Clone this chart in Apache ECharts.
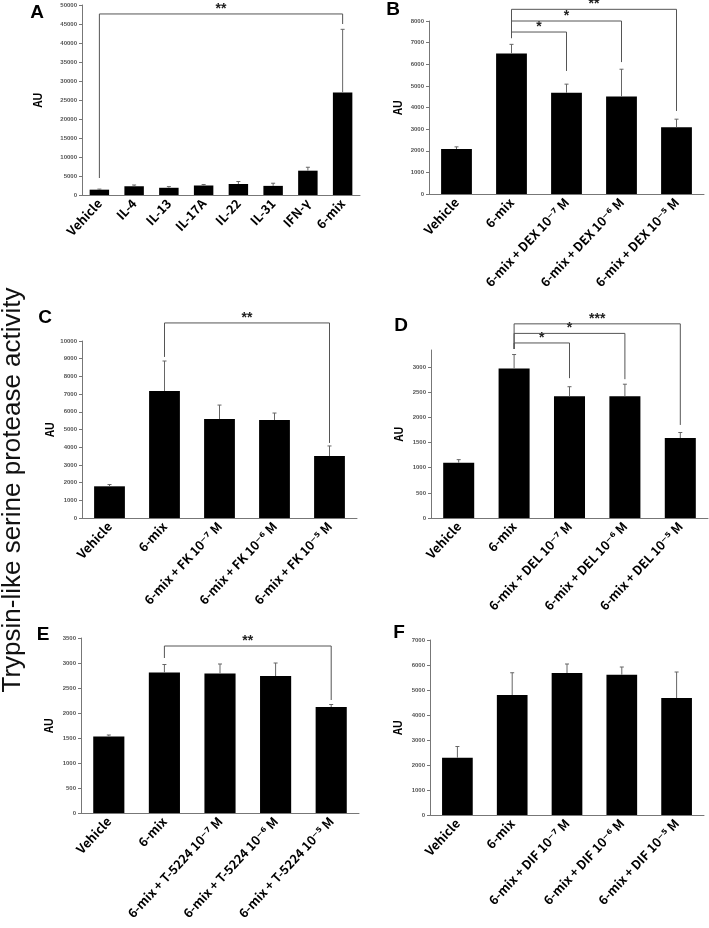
<!DOCTYPE html>
<html>
<head>
<meta charset="utf-8">
<script src="https://cdn.jsdelivr.net/npm/echarts@6/dist/echarts.min.js"></script>
<style>
  html, body { margin: 0; padding: 0; background: #fff; }
  #main { width: 709px; height: 928px; }
</style>
</head>
<body>
<div id="main"></div>
<script>
// categories
const catsA = ['Vehicle', 'IL-4', 'IL-13', 'IL-17A', 'IL-22', 'IL-31', 'IFN-γ', '6-mix']
const catsB = ['Vehicle', '6-mix', '6-mix + DEX 10⁻⁷ M', '6-mix + DEX 10⁻⁶ M', '6-mix + DEX 10⁻⁵ M']
const catsC = ['Vehicle', '6-mix', '6-mix + FK 10⁻⁷ M', '6-mix + FK 10⁻⁶ M', '6-mix + FK 10⁻⁵ M']
const catsD = ['Vehicle', '6-mix', '6-mix + DEL 10⁻⁷ M', '6-mix + DEL 10⁻⁶ M', '6-mix + DEL 10⁻⁵ M']
const catsE = ['Vehicle', '6-mix', '6-mix + T-5224 10⁻⁷ M', '6-mix + T-5224 10⁻⁶ M', '6-mix + T-5224 10⁻⁵ M']
const catsF = ['Vehicle', '6-mix', '6-mix + DIF 10⁻⁷ M', '6-mix + DIF 10⁻⁶ M', '6-mix + DIF 10⁻⁵ M']

// means and SD (AU)
const meanA = [1400, 2300, 1900, 2500, 2900, 2400, 6400, 27000]
const sdA = [150, 330, 300, 250, 650, 700, 900, 16600]
const meanB = [2080, 6500, 4680, 4510, 3090]
const sdB = [100, 420, 400, 1260, 370]
const meanC = [1790, 7180, 5590, 5540, 3500]
const sdC = [100, 1690, 790, 390, 570]
const meanD = [1100, 2970, 2420, 2420, 1590]
const sdD = [60, 280, 190, 240, 110]
const meanE = [1530, 2810, 2790, 2740, 2120]
const sdE = [30, 160, 190, 260, 50]
const meanF = [2290, 4800, 5680, 5610, 4680]
const sdF = [450, 890, 360, 310, 1040]

// y axis ticks: [max, interval]
const axisA = [50000, 5000]
const axisB = [8000, 1000]
const axisC = [10000, 1000]
const axisD = [3340, 500]
const axisE = [3500, 500]
const axisF = [7000, 1000]
const ticksD = [0, 500, 1000, 1500, 2000, 2500, 3000]

// significance brackets: [from, to, level, leftEnd, rightEnd, label]
const sigA = [[0, 7, 47640, 4470, 45000, '**']]
const sigB = [[1, 2, 7490, 7210, 5690, '*'], [1, 3, 8000, 7210, 6100, '*'], [1, 4, 8540, 7210, 3840, '**']]
const sigC = [[1, 4, 11020, 9100, 4240, '**']]
const sigD = [[1, 2, 3480, 3360, 2780, '*'], [1, 3, 3670, 3360, 2760, '*'], [1, 4, 3860, 3360, 1850, '***']]
const sigE = [[1, 4, 3340, 3100, 2260, '**']]

const panels = [
  { key: 'A', cats: catsA, mean: meanA, sd: sdA, axis: axisA, sig: sigA, grid: [82, 5, 278, 190], gap: 39, letter: [37, 13] },
  { key: 'B', cats: catsB, mean: meanB, sd: sdB, axis: axisB, sig: sigB, grid: [429, 21, 275, 173], gap: 26, letter: [393, 10] },
  { key: 'C', cats: catsC, mean: meanC, sd: sdC, axis: axisC, sig: sigC, grid: [82, 341, 275, 177], gap: 27, letter: [45, 318] },
  { key: 'D', cats: catsD, mean: meanD, sd: sdD, axis: axisD, sig: sigD, grid: [431, 350, 277, 168], gap: 27, letter: [401, 326], ticks: ticksD },
  { key: 'E', cats: catsE, mean: meanE, sd: sdE, axis: axisE, sig: sigE, grid: [81, 638, 278, 175], gap: 27, letter: [43, 635] },
  { key: 'F', cats: catsF, mean: meanF, sd: sdF, axis: axisF, sig: [], grid: [430, 640, 274, 175], gap: 27, letter: [399, 633] }
]

const labelFont = '"Noto Sans CJK JP", "DejaVu Sans", sans-serif'

function errRender (params, api) {
  let x = api.value(0)
  let p1 = api.coord([x, api.value(1)])
  let p2 = api.coord([x, api.value(2)])
  let st = { stroke: '#666', lineWidth: 1 }
  return {
    type: 'group',
    children: [
      { type: 'line', shape: { x1: p1[0], y1: p1[1], x2: p2[0], y2: p2[1] }, style: st },
      { type: 'line', shape: { x1: p2[0] - 2, y1: p2[1], x2: p2[0] + 2, y2: p2[1] }, style: st }
    ]
  }
}

function sigRender (params, api) {
  let a = api.coord([api.value(0), api.value(2)])
  let b = api.coord([api.value(1), api.value(2)])
  let la = api.coord([api.value(0), api.value(3)])
  let rb = api.coord([api.value(1), api.value(4)])
  let st = { stroke: '#555', lineWidth: 1 }
  return {
    type: 'group',
    children: [
      { type: 'polyline', shape: { points: [[la[0], la[1]], [a[0], a[1]], [b[0], b[1]], [rb[0], rb[1]]] }, style: Object.assign({ fill: null }, st) },
      { type: 'text', x: (a[0] + b[0]) / 2, y: a[1] + 2, style: { text: api.value(5), fill: '#222', font: 'bold 14px "Liberation Sans", Arial, sans-serif', align: 'center', verticalAlign: 'bottom' } }
    ]
  }
}

let grids = [], xAxes = [], yAxes = [], series = [], graphics = []
panels.forEach(function (p, i) {
  grids.push({ left: p.grid[0], top: p.grid[1], width: p.grid[2], height: p.grid[3], outerBoundsMode: 'none' })
  xAxes.push({
    type: 'category', gridIndex: i, data: p.cats,
    axisLine: { lineStyle: { color: '#777', width: 1 } },
    axisTick: { length: 3, lineStyle: { color: '#777' } },
    axisLabel: { interval: 0, rotate: 47, margin: 6, fontSize: 12.5, fontWeight: 'bold', color: '#000', fontFamily: labelFont }
  })
  let y = {
    type: 'value', gridIndex: i, min: 0, max: p.axis[0], interval: p.axis[1],
    name: 'AU', nameLocation: 'middle', nameGap: p.gap, nameRotate: 90,
    nameTextStyle: { fontSize: 11, fontWeight: 'bold', color: '#000', fontFamily: labelFont },
    splitLine: { show: false },
    axisLine: { show: true, lineStyle: { color: '#777', width: 1 } },
    axisTick: { show: true, length: 3, lineStyle: { color: '#777' } },
    axisLabel: { fontSize: 6, fontWeight: 'bold', color: '#555', margin: 5, formatter: function (v) { return String(v) } }
  }
  if (p.ticks) {
    y.axisTick.customValues = p.ticks
    y.axisLabel.customValues = p.ticks
  }
  yAxes.push(y)
  series.push({
    type: 'bar', xAxisIndex: i, yAxisIndex: i, data: p.mean,
    barCategoryGap: '44%', itemStyle: { color: '#000' }, silent: true
  })
  series.push({
    type: 'custom', xAxisIndex: i, yAxisIndex: i, renderItem: errRender, z: 3, silent: true,
    data: p.mean.map(function (m, k) { return [k, m, m + p.sd[k]] }),
    encode: { x: 0, y: [1, 2] }
  })
  if (p.sig.length) {
    series.push({
      type: 'custom', xAxisIndex: i, yAxisIndex: i, renderItem: sigRender, clip: false, z: 4, silent: true,
      data: p.sig, encode: { x: [0, 1], y: 2 }
    })
  }
  graphics.push({
    type: 'text', x: p.letter[0], y: p.letter[1],
    style: { text: p.key, font: 'bold 19px "Liberation Sans", Arial, sans-serif', fill: '#000', align: 'center', verticalAlign: 'middle' }
  })
})

// shared y title
graphics.push({
  type: 'text', x: 13, y: 490, rotation: Math.PI / 2,
  style: { text: 'Trypsin-like serine protease activity', font: '26px "Liberation Sans", Arial, sans-serif', fill: '#111', align: 'center', verticalAlign: 'middle' }
})

let myChart = echarts.init(document.getElementById('main'), null, { renderer: 'canvas' })
myChart.setOption({
  animation: false,
  grid: grids,
  xAxis: xAxes,
  yAxis: yAxes,
  series: series,
  graphic: graphics
})
</script>
</body>
</html>
